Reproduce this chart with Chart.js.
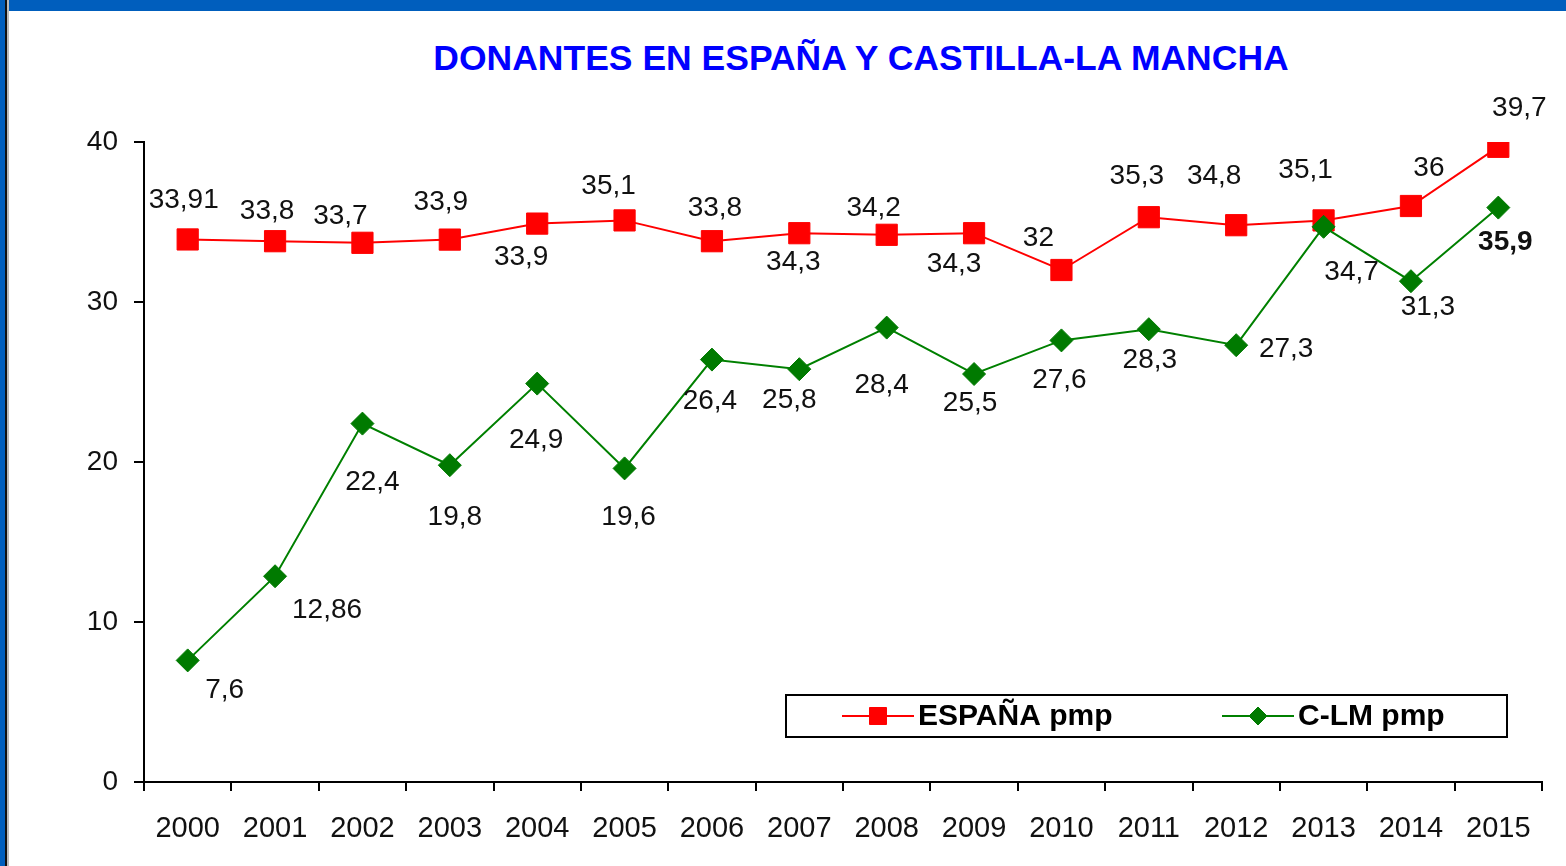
<!DOCTYPE html>
<html lang="es">

<head>
    <meta charset="UTF-8">
    <title>Donantes en España y Castilla-La Mancha</title>
    <script src="https://cdn.jsdelivr.net/npm/chart.js"></script>
    <style>
        html, body {
            margin: 0;
            padding: 0;
            background: #fff;
        }
        #page {
            position: relative;
            width: 1566px;
            height: 866px;
            overflow: hidden;
            background: #fff;
        }
        #topband {
            position: absolute;
            left: 0; top: 0;
            width: 1566px; height: 11px;
            background: #005ebd;
        }
        #leftband {
            position: absolute;
            left: 0; top: 0;
            width: 5px; height: 866px;
            background: #005ebd;
            border-right: 2px solid #111;
            box-shadow: 2px 0 0 #bbb;
        }
        #title {
            position: absolute;
            left: 861px; top: 40px;
            transform: translateX(-50%);
            white-space: nowrap;
            font: bold 35.5px/36px "Liberation Sans", Arial, sans-serif;
            color: #0000ff;
        }
        canvas {
            position: absolute;
            left: 0; top: 0;
        }
    </style>
</head>

<body>
    <div id="page">
        <div id="topband"></div>
        <div id="leftband"></div>
        <div id="title">DONANTES EN ESPAÑA Y CASTILLA-LA MANCHA</div>
        <canvas id="lineChart" width="1566" height="866"></canvas>
    </div>

    <script>
        // data
        const years = ['2000', '2001', '2002', '2003', '2004', '2005', '2006', '2007',
            '2008', '2009', '2010', '2011', '2012', '2013', '2014', '2015'];

        const espanaValues = [33.91, 33.8, 33.7, 33.9, 34.9, 35.1, 33.8, 34.3,
            34.2, 34.3, 32, 35.3, 34.8, 35.1, 36, 39.7];
        const clmValues = [7.6, 12.86, 22.4, 19.8, 24.9, 19.6, 26.4, 25.8,
            28.4, 25.5, 27.6, 28.3, 27.3, 34.7, 31.3, 35.9];

        // labels as printed on the chart (2004 España is printed "33,9")
        const espanaText = ['33,91', '33,8', '33,7', '33,9', '33,9', '35,1', '33,8', '34,3',
            '34,2', '34,3', '32', '35,3', '34,8', '35,1', '36', '39,7'];
        const clmText = ['7,6', '12,86', '22,4', '19,8', '24,9', '19,6', '26,4', '25,8',
            '28,4', '25,5', '27,6', '28,3', '27,3', '34,7', '31,3', '35,9'];

        const yTicks = [0, 10, 20, 30, 40];

        // where each value label sits relative to its point [dx, dy]
        const espanaLabelOffsets = [[-4, -39], [-8, -30], [-22, -27], [-9, -37], [-16, 34], [-16, -34],
            [3, -33], [-6, 29], [-13, -27], [-20, 31], [-23, -32], [-12, -41], [-22, -49], [-18, -50],
            [18, -38], [21, -39]];
        const clmLabelOffsets = [[37, 30], [52, 34], [10, 59], [5, 52], [-1, 57], [4, 49],
            [-2, 42], [-10, 31], [-5, 58], [-4, 29], [-2, 40], [1, 31], [50, 4], [28, 45],
            [17, 26], [7, 35]];

        const FONT = '"Liberation Sans", Arial, sans-serif';

        // value labels next to points
        const pointLabels = {
            id: 'pointLabels',
            afterDatasetsDraw(chart) {
                const ctx = chart.ctx;
                chart.data.datasets.forEach((ds, di) => {
                    const meta = chart.getDatasetMeta(di);
                    meta.data.forEach((pt, i) => {
                        const off = ds.labelOffsets[i];
                        ctx.save();
                        ctx.font = (ds.boldLabel === i ? 'bold ' : '') + '28px ' + FONT;
                        ctx.fillStyle = '#111';
                        ctx.textAlign = 'center';
                        ctx.textBaseline = 'middle';
                        ctx.fillText(ds.labelText[i], pt.x + off[0], pt.y + off[1]);
                        ctx.restore();
                    });
                });
            }
        };

        // boxed legend inside the plot
        const boxLegend = {
            id: 'boxLegend',
            afterDraw(chart, args, opts) {
                const ctx = chart.ctx;
                ctx.save();
                ctx.fillStyle = '#fff';
                ctx.fillRect(opts.x, opts.y, opts.w, opts.h);
                ctx.strokeStyle = '#000';
                ctx.lineWidth = 2;
                ctx.strokeRect(opts.x, opts.y, opts.w, opts.h);
                const cy = opts.y + opts.h / 2;
                chart.data.datasets.forEach((ds, i) => {
                    const x0 = opts.items[i];
                    ctx.strokeStyle = ds.borderColor;
                    ctx.lineWidth = 2;
                    ctx.beginPath();
                    ctx.moveTo(x0, cy);
                    ctx.lineTo(x0 + 72, cy);
                    ctx.stroke();
                    ctx.fillStyle = ds.pointBackgroundColor;
                    ctx.strokeStyle = ds.pointBorderColor;
                    ctx.lineWidth = 1;
                    Chart.helpers.drawPoint(ctx, {
                        pointStyle: ds.pointStyle,
                        radius: ds.pointStyle === 'rect' ? 12 : 9,
                        rotation: 0,
                        borderWidth: 1
                    }, x0 + 36, cy);
                    ctx.fillStyle = '#000';
                    ctx.font = 'bold 30px ' + FONT;
                    ctx.textAlign = 'left';
                    ctx.textBaseline = 'middle';
                    ctx.fillText(ds.label, x0 + 76, cy + 1);
                });
                ctx.restore();
            }
        };

        new Chart(document.getElementById('lineChart').getContext('2d'), {
            type: 'line',
            data: {
                labels: years,
                datasets: [{
                    label: 'ESPAÑA pmp',
                    data: espanaValues,
                    labelText: espanaText,
                    labelOffsets: espanaLabelOffsets,
                    borderColor: '#ff0000',
                    borderWidth: 2,
                    pointStyle: 'rect',
                    pointRadius: 15,
                    pointBackgroundColor: '#ff0000',
                    pointBorderColor: '#ff0000',
                    pointBorderWidth: 1,
                    tension: 0,
                    order: 2
                }, {
                    label: 'C-LM pmp',
                    data: clmValues,
                    labelText: clmText,
                    labelOffsets: clmLabelOffsets,
                    boldLabel: 15,
                    borderColor: '#008000',
                    borderWidth: 2,
                    pointStyle: 'rectRot',
                    pointRadius: 11.5,
                    pointBackgroundColor: '#007a00',
                    pointBorderColor: '#007a00',
                    pointBorderWidth: 1,
                    tension: 0,
                    order: 1
                }]
            },
            options: {
                responsive: false,
                animation: false,
                devicePixelRatio: 1,
                events: [],
                layout: {
                    padding: { top: 142, right: 24, left: 0, bottom: 0 }
                },
                plugins: {
                    legend: { display: false },
                    title: { display: false },
                    tooltip: { enabled: false },
                    boxLegend: { x: 786, y: 695, w: 721, h: 42, items: [842, 1222] }
                },
                scales: {
                    x: {
                        offset: true,
                        grid: {
                            offset: true,
                            drawOnChartArea: false,
                            drawTicks: true,
                            tickLength: 9,
                            color: '#000',
                            lineWidth: 2
                        },
                        border: { color: '#000', width: 2 },
                        ticks: {
                            color: '#111',
                            font: { family: FONT, size: 29 },
                            padding: 21,
                            maxRotation: 0,
                            autoSkip: false
                        },
                        afterFit(scale) { scale.height = 84; }
                    },
                    y: {
                        min: 0,
                        max: 40,
                        afterBuildTicks(scale) { scale.ticks = yTicks.map(v => ({ value: v })); },
                        grid: {
                            drawOnChartArea: false,
                            drawTicks: true,
                            tickLength: 10,
                            color: '#000',
                            lineWidth: 2
                        },
                        border: { color: '#000', width: 2 },
                        ticks: {
                            color: '#111',
                            font: { family: FONT, size: 28 },
                            padding: 16
                        },
                        afterFit(scale) { scale.width = 144; }
                    }
                }
            },
            plugins: [pointLabels, boxLegend]
        });
    </script>
</body>

</html>
